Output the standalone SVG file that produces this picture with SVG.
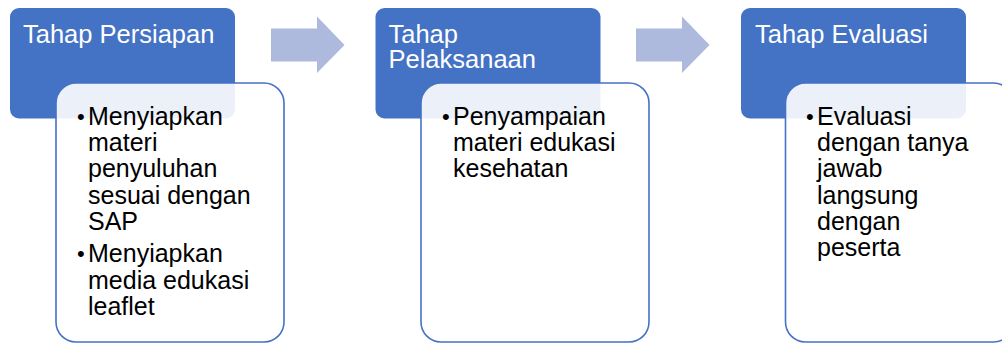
<svg xmlns="http://www.w3.org/2000/svg" width="1002" height="343" viewBox="0 0 1002 343">
<style>
.hdr{fill:#4472c4;}
.card{fill:#ffffff;fill-opacity:0.9;stroke:#4472c4;stroke-width:1.6;}
.ht{font-family:"Liberation Sans",Arial,sans-serif;font-size:25.5px;fill:#ffffff;}
.bt{font-family:"Liberation Sans",Arial,sans-serif;font-size:25px;fill:#000000;}
.dot{font-family:"Liberation Sans",Arial,sans-serif;font-size:22px;fill:#000000;}
.arr{fill:#adb9dd;}
</style>
<rect width="1002" height="343" fill="#ffffff"/>
<g id="connectors">
<polygon class="arr" points="271,28.5 317,28.5 317,16.5 344.5,45 317,73 317,61.5 271,61.5"/>
<polygon class="arr" points="636,28.5 682,28.5 682,16.5 709.5,45 682,73 682,61.5 636,61.5"/>
</g>
<g id="node-persiapan">
<rect class="hdr" x="10" y="8" width="225" height="110.5" rx="9"/>
<text class="ht" x="23" y="42.5">Tahap Persiapan</text>
<rect class="card" x="56" y="83" width="228" height="259" rx="20"/>
<text class="dot" x="77" y="123.5">•</text>
<text class="bt" x="88" y="124.5">Menyiapkan</text>
<text class="bt" x="88" y="151">materi</text>
<text class="bt" x="88" y="177">penyuluhan</text>
<text class="bt" x="88" y="203.5">sesuai dengan</text>
<text class="bt" x="88" y="230">SAP</text>
<text class="dot" x="77" y="261">•</text>
<text class="bt" x="88" y="262">Menyiapkan</text>
<text class="bt" x="88" y="288.5">media edukasi</text>
<text class="bt" x="88" y="315">leaflet</text>
</g>
<g id="node-pelaksanaan">
<rect class="hdr" x="375.5" y="8" width="225" height="110.5" rx="9"/>
<text class="ht" x="388.5" y="42.5">Tahap</text>
<text class="ht" x="388.5" y="68">Pelaksanaan</text>
<rect class="card" x="421" y="83" width="228" height="259" rx="20"/>
<text class="dot" x="442" y="124">•</text>
<text class="bt" x="453" y="125">Penyampaian</text>
<text class="bt" x="453" y="151">materi edukasi</text>
<text class="bt" x="453" y="177">kesehatan</text>
</g>
<g id="node-evaluasi">
<rect class="hdr" x="741" y="8" width="225" height="110.5" rx="9"/>
<text class="ht" x="755" y="42.5">Tahap Evaluasi</text>
<rect class="card" x="785.5" y="83" width="228" height="259" rx="20"/>
<text class="dot" x="806" y="124">•</text>
<text class="bt" x="817" y="125">Evaluasi</text>
<text class="bt" x="817" y="151">dengan tanya</text>
<text class="bt" x="817" y="177">jawab</text>
<text class="bt" x="817" y="203.5">langsung</text>
<text class="bt" x="817" y="230">dengan</text>
<text class="bt" x="817" y="256">peserta</text>
</g>
</svg>
